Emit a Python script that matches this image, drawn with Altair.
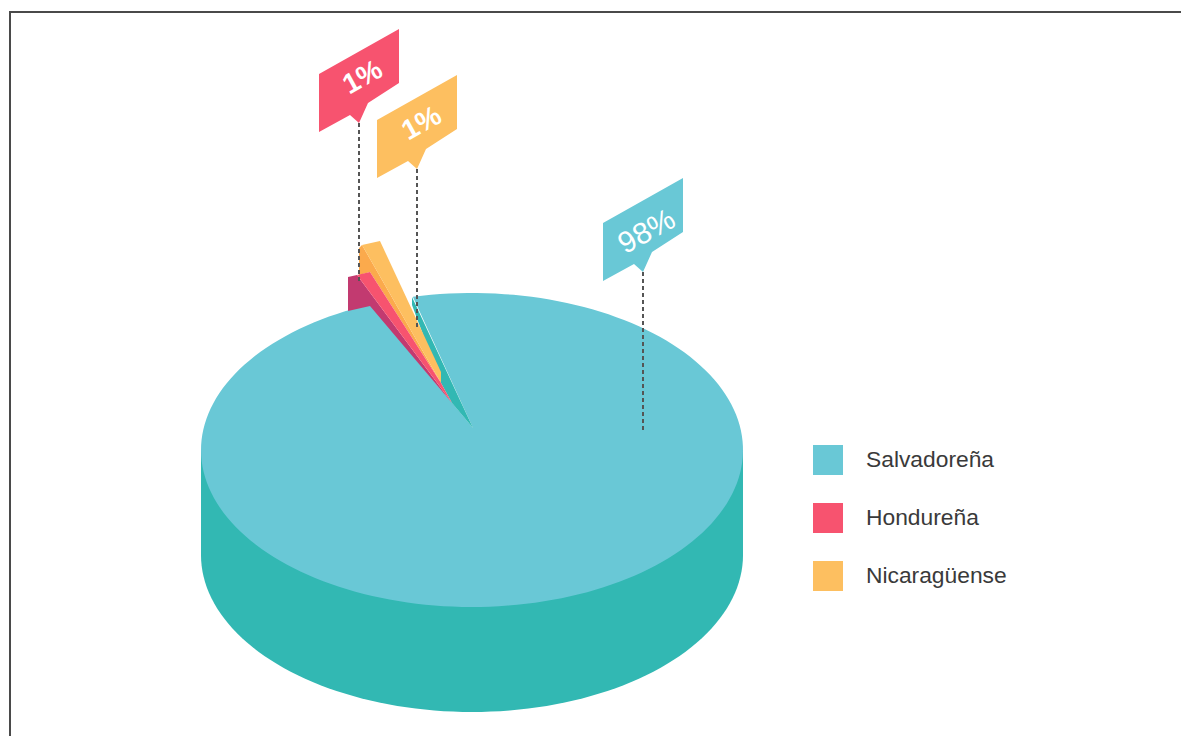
import math
import altair as alt

# ---- chart values ----
categories = ["Salvadoreña", "Hondureña", "Nicaragüense"]
shares = [98, 1, 1]
top_colors = ["#69C8D6", "#F7536F", "#FDBF60"]

# ---- drawing geometry of the isometric pie ----
SIDE = "#32B8B3"
WALL_RED = "#C23A70"
WALL_ORANGE = "#FBAA4C"
CX, CY, RX, RY, DEPTH = 472, 450, 271, 157, 105
APEX = (473, 428)
SLICE_GAP_START, SLICE_GAP_END = 102.6, 112.1  # rim angles of the gap left by the two 1% slices


def rim(t, dy=0):
    a = math.radians(t)
    return [CX + RX * math.cos(a), CY - RY * math.sin(a) + dy]


def poly(points, **props):
    pts = [list(p) for p in points]
    return {"type": "Feature", "properties": props,
            "geometry": {"type": "Polygon", "coordinates": [pts + [pts[0]]]}}


def stroke(points):
    return {"type": "Feature", "properties": {},
            "geometry": {"type": "LineString", "coordinates": [list(p) for p in points]}}


def flag(tip, category):
    x, y = tip
    return poly([(x - 40, y - 49), (x + 40, y - 94), (x + 40, y - 40), (x + 9, y - 20),
                 (x, y), (x - 9, y - 8), (x - 40, y + 9)], category=category)


tips = [(643, 272), (359, 123), (417, 169)]
text_pos = [(647, 232), (363, 78), (422, 124)]
text_size = [30, 28, 28]
LEADER = 160

body = poly([rim(180 + i, DEPTH) for i in range(0, 181, 2)] + [rim(0), rim(180)])
wall_main = poly([(412, 297), APEX, (452, 403), (441, 383), (412, 305)])
wall_red = poly([(348, 277), (357, 275), (452, 403), (370, 306), (348, 311)])
wall_orange = poly([(362, 245), (359, 248), (359, 275), (370, 272), (441, 383)])

span = 360 - (SLICE_GAP_END - SLICE_GAP_START)
steps = 180
main_top = poly([rim(SLICE_GAP_END + span * i / steps) for i in range(steps + 1)] + [APEX],
                category=categories[0])
slice_tops = [
    poly([(362, 245), (380, 241), (441, 372), (441, 383)], category=categories[2]),
    poly([(357, 275), (370, 272), (441, 383), (452, 403)], category=categories[1]),
]

color = alt.Color(
    "properties.category:N",
    scale=alt.Scale(domain=categories, range=top_colors),
    sort=categories,
    legend=alt.Legend(
        title=None, orient="none", legendX=805, legendY=437,
        symbolType="square", symbolSize=900, symbolStrokeWidth=0,
        labelFont="Liberation Sans", labelFontSize=22.8, labelColor="#3A3A3A",
        labelOffset=23, rowPadding=28, labelLimit=300,
    ),
)
PROJ = dict(type="identity", scale=1, translate=[-8, -8])


def shapes(features):
    return alt.Chart(alt.Data(values=features)).mark_geoshape(strokeWidth=0).encode(color=color).project(**PROJ)


def solid(feature, fill):
    return alt.Chart(alt.Data(values=[feature])).mark_geoshape(strokeWidth=0, fill=fill).project(**PROJ)


def lines(features, **style):
    return alt.Chart(alt.Data(values=features)).mark_geoshape(filled=False, **style).project(**PROJ)


def texts(rows, weight):
    return alt.Chart(alt.Data(values=rows)).mark_text(
        color="white", angle=331, align="center", baseline="middle",
        font="Liberation Sans", fontWeight=weight,
    ).encode(
        longitude="lon:Q", latitude="lat:Q", text="label:N",
        size=alt.Size("fs:Q", scale=None, legend=None),
    ).project(**PROJ)


frame = lines([stroke([(10, 740), (10, 12), (1195, 12)])], stroke="#4A4A4A", strokeWidth=2)
leaders = lines([stroke([t, (t[0], t[1] + LEADER)]) for t in tips],
                stroke="#555555", strokeWidth=2, strokeDash=[4, 3])
flags = [flag(t, c) for t, c in zip(tips, categories)]

label_rows = [
    {"lon": p[0], "lat": p[1], "label": f"{v}%", "fs": s}
    for p, v, s in zip(text_pos, shares, text_size)
]

chart = alt.layer(
    frame,
    solid(body, SIDE),
    shapes([main_top]),
    solid(wall_main, SIDE),
    solid(wall_red, WALL_RED),
    solid(wall_orange, WALL_ORANGE),
    shapes(slice_tops),
    leaders,
    shapes(flags),
    texts(label_rows[:1], "normal"),
    texts(label_rows[1:], "bold"),
).properties(width=1173, height=728, padding=0).configure_view(stroke=None)

chart.save("out.html", embed_options={"renderer": "svg", "actions": False})
